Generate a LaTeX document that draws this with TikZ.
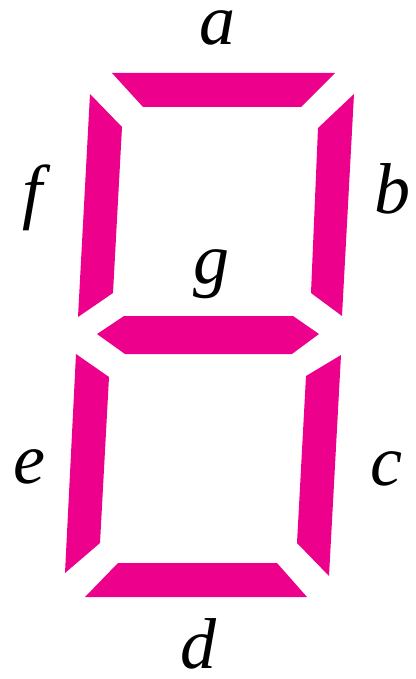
\documentclass[tikz,border=0pt]{standalone}
\usepackage{fontspec}
\setmainfont{Liberation Serif}
\definecolor{segpink}{RGB}{236,0,140}
\begin{document}
\begin{tikzpicture}[x=1pt,y=-1pt,
  seg/.style={fill=segpink,draw=none},
  lab/.style={anchor=base,inner sep=0pt,font=\fontsize{72}{72}\selectfont\itshape}]
\useasboundingbox (0,0) rectangle (415,679);
% a
\fill[seg] (112,73) -- (335,73) -- (301,107) -- (143,107) -- cycle;
% f
\fill[seg] (90,94) -- (122,127) -- (113,293) -- (78,317) -- cycle;
% b
\fill[seg] (354,94) -- (342,316) -- (311,293) -- (318,128) -- cycle;
% g
\fill[seg] (97,334) -- (124,316) -- (293,316) -- (319,334) -- (292,354) -- (125,354) -- cycle;
% e
\fill[seg] (76,354) -- (109,377) -- (100,543) -- (65,573) -- cycle;
% c
\fill[seg] (341,355) -- (329,576) -- (297,543) -- (306,376) -- cycle;
% d
\fill[seg] (118,563) -- (277,563) -- (307,597) -- (85,597) -- cycle;
% labels
\node[lab,text height=0.48em,text depth=0pt] (la) at (217,45) {a};
\node[lab] (lf) at (33,215) {f};
\node[lab] (lb) at (392,213) {b};
\node[lab] (lg) at (211,283) {g};
\node[lab] (le) at (29,483) {e};
\node[lab] (lc) at (386,485) {c};
\node[lab,text height=0.7em,text depth=0pt] (ld) at (198,668) {d};
\end{tikzpicture}
\end{document}
